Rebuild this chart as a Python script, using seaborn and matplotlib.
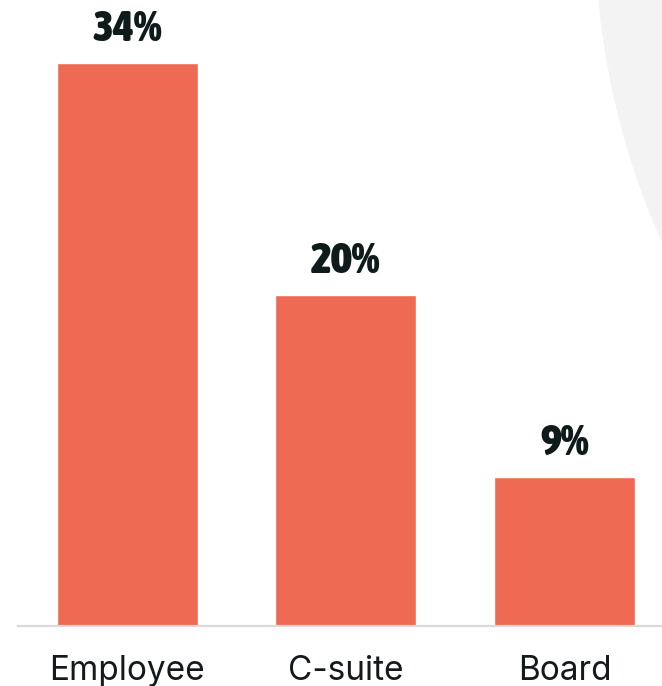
import matplotlib
matplotlib.use("Agg")
import matplotlib.pyplot as plt
import matplotlib.font_manager as fm
import seaborn as sns
import pandas as pd
from matplotlib.patches import Ellipse

categories = ["Employee", "C-suite", "Board"]
values = [34, 20, 9]
labels = ["34%", "20%", "9%"]

sns.set_theme(style="white")
plt.rcParams["font.family"] = ["Inter", "DejaVu Sans"]


def _w(v):
    if isinstance(v, (int, float)):
        return v
    return {"bold": 700, "heavy": 800, "black": 900, "extra bold": 800,
            "semibold": 600, "demibold": 600, "ultrabold": 800}.get(str(v).lower(), 400)


# pick a heavy condensed face if one is installed, otherwise a heavy regular one
cands = []
for f in fm.fontManager.ttflist:
    cond = (str(f.stretch) in ("condensed", "semi-condensed", "extra-condensed", "ultra-condensed")
            or "Narrow" in f.name or "Condensed" in f.name
            or "condensed" in f.fname.lower() or "narrow" in f.fname.lower())
    if cond and _w(f.weight) >= 700 and "oblique" not in f.fname.lower() and "italic" not in f.fname.lower():
        cands.append((-_w(f.weight), f.fname))
if cands:
    cands.sort()
    num_font = fm.FontProperties(fname=cands[0][1], size=32)
else:
    num_font = fm.FontProperties(family=["Roboto", "DejaVu Sans"], weight=900, size=27)

W, H = 662, 686
fig = plt.figure(figsize=(W / 100, H / 100), dpi=100)
fig.patch.set_facecolor("white")

# decorative light grey circle in the top-right corner
R = 773
circ = Ellipse((1368 / W, (H + 72) / H), 2 * R / W, 2 * R / H,
               transform=fig.transFigure, facecolor="#f3f3f3", edgecolor="none", zorder=0)
fig.patches.append(circ)

ax = fig.add_axes([18 / W, 60 / H, 1 - 18 / W, 626 / H])
ax.set_facecolor("none")

df = pd.DataFrame({"category": categories, "value": values})
sns.barplot(data=df, x="category", y="value", color="#EE6A52", saturation=1,
            width=0.645, ax=ax, zorder=2)

ax.set_xlim(-0.5, 2.446)
ax.set_ylim(0, 37.8)

for i, (v, lab) in enumerate(zip(values, labels)):
    ax.annotate(lab, (i, v), xytext=(0, 22), textcoords="offset pixels",
                ha="center", va="baseline", fontproperties=num_font, color="#0f1a1a")

for s in ["top", "right", "left"]:
    ax.spines[s].set_visible(False)
ax.spines["bottom"].set_color("#d9d9d9")
ax.spines["bottom"].set_linewidth(1.6)
ax.set_yticks([])
ax.set_xlabel("")
ax.set_ylabel("")
ax.tick_params(axis="x", length=0, pad=21, labelsize=24, labelcolor="#14191c")

fig.savefig("out.png", dpi=100, facecolor="white")
